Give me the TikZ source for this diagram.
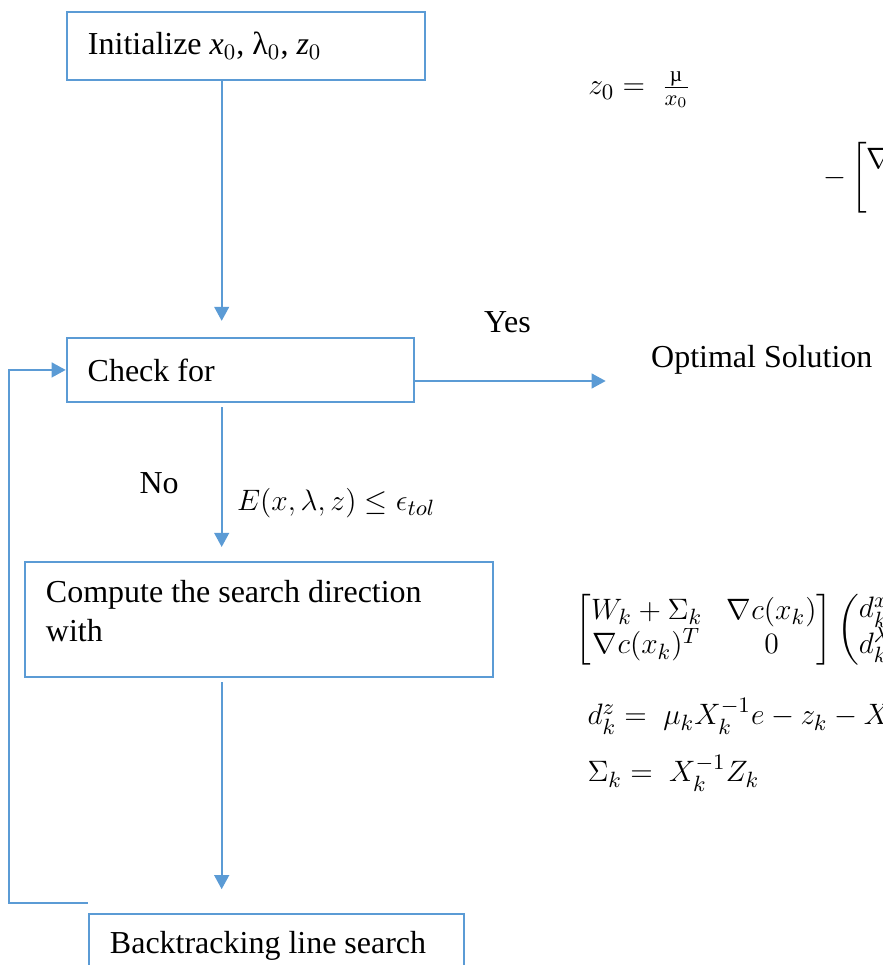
\documentclass[tikz,border=0pt]{standalone}
\usepackage{amsmath}
\usepackage{fontspec}
\setmainfont{Liberation Serif}
\usetikzlibrary{arrows.meta}
\definecolor{flowblue}{HTML}{5B9BD5}

\begin{document}
\begin{tikzpicture}[
  font=\fontsize{13}{15.5}\selectfont,
  stepbox/.style={draw=flowblue,line width=0.8pt,anchor=north west,inner xsep=0.3cm,inner ysep=0pt,
    align=flush left,execute at begin node={\spaceskip=0pt\xspaceskip=0pt\relax}},
  flow/.style={draw=flowblue,line width=0.8pt,-{Triangle[length=2mm,width=2.1mm]}},
  lbl/.style={inner sep=0pt},
  eqn/.style={lbl,font=\fontsize{12.4}{14}\selectfont}]
\useasboundingbox (0,0) rectangle (12.614,-13.786);
\clip (0,0) rectangle (12.614,-13.786);

%boxes
\node[stepbox,text width=4.514cm,minimum height=0.971cm] (init) at (0.943,-0.157) {Initialize \textit{x}$_0$, λ$_0$, \textit{z}$_0$};
\node[stepbox,text width=4.357cm,minimum height=0.914cm] (check) at (0.939,-4.814) {Check for};
\node[stepbox,text width=6.086cm,text height=0.586cm,text depth=1.057cm] (dir) at (0.343,-8.014) {Compute the search direction\\with};
\node[stepbox,text width=4.757cm,minimum height=0.914cm] (search) at (1.257,-13.043) {Backtracking line search};

%labels
\node[lbl,anchor=base] (yes) at (7.25,-4.743) {Yes};
\node[lbl,anchor=base west] (sol) at (9.296,-5.257) {Optimal Solution};
\node[lbl,anchor=base west] (no) at (1.986,-7.057) {No};
\node[eqn,anchor=base west] (cond) at (3.379,-7.286) {$E(x,\lambda,z)\le\epsilon_{tol}$};

%equations
\node[eqn,anchor=base west] (zinit) at (8.4,-1.357) {$z_0 = \;\tfrac{\text{µ}}{x_0}$};
\node[eqn,anchor=west] (lambinit) at (11.757,-2.543) {$-\begin{bmatrix}\nabla c(x_0)^T\nabla c(x_0)\\ 0\end{bmatrix}$};
\node[eqn,anchor=west] (kkt) at (8.214,-9.0) {\renewcommand{\arraystretch}{0.85}$\begin{bmatrix} W_k+\Sigma_k & \nabla c(x_k)\\ \nabla c(x_k)^T & 0\end{bmatrix}\begin{pmatrix} d_k^x\\ d_k^\lambda\end{pmatrix} = -\begin{pmatrix}\nabla\varphi_\mu(x_k)+\nabla c(x_k)\lambda_k\\ c(x_k)\end{pmatrix}$};
\node[eqn,anchor=base west] (dz) at (8.386,-10.357) {$d_k^z = \;\mu_k X_k^{-1}e - z_k - X_k^{-1}Z_k d_k^x$};
\node[eqn,anchor=base west] (sig) at (8.386,-11.171) {$\Sigma_k = \;X_k^{-1}Z_k$};

%arrows
\coordinate (col) at (3.167,0);
\coordinate (out) at (8.653,-5.443);
\coordinate (back) at (1.253,-12.896);
\coordinate (rail) at (0.133,0);
\draw[flow,shorten >=2.3mm] (init.south -| col) -- (check.north -| col);
\draw[flow,shorten <=0.6mm,shorten >=2mm] (check.south -| col) -- (dir.north -| col);
\draw[flow,shorten <=0.6mm,shorten >=3.4mm] (dir.south -| col) -- (search.north -| col);
\draw[flow] (check.east |- out) -- (out);
\draw[flow] (back) -- (back -| rail) |- (check.west);
\end{tikzpicture}
\end{document}
